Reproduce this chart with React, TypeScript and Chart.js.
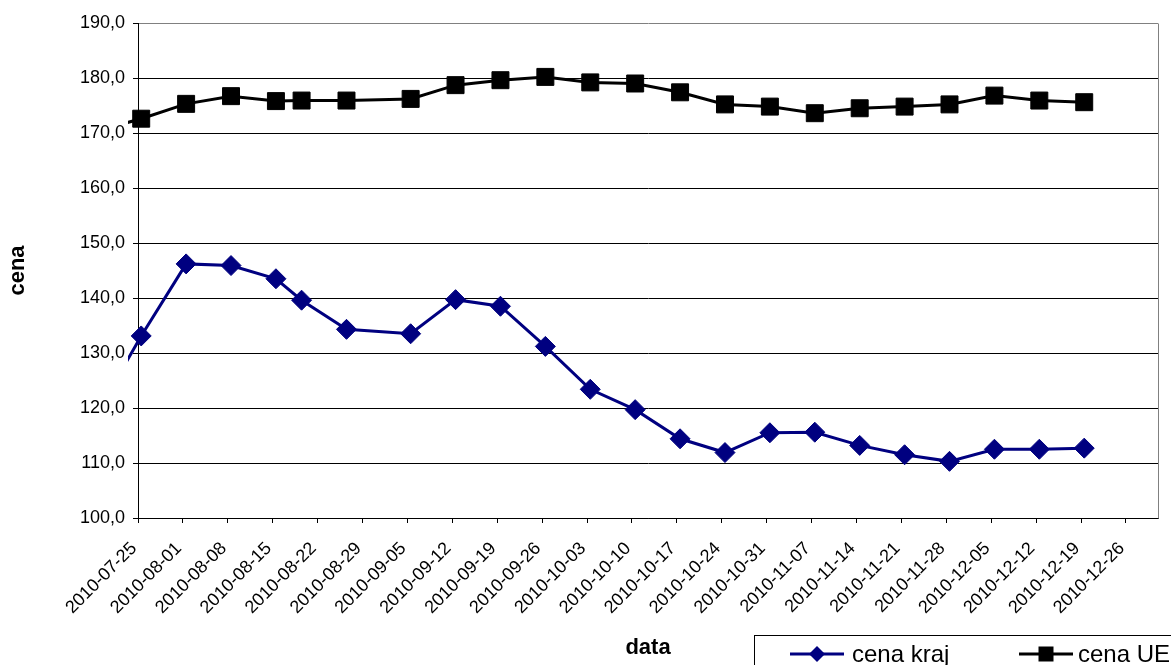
import React, { useEffect, useRef } from 'react';
import { Chart, registerables } from 'chart.js';

Chart.register(...registerables);

// ---- data ----
const axisStart = '2010-07-25';
const axisEnd = '2010-12-31';
const tickDates = [
  '2010-07-25', '2010-08-01', '2010-08-08', '2010-08-15', '2010-08-22', '2010-08-29',
  '2010-09-05', '2010-09-12', '2010-09-19', '2010-09-26', '2010-10-03', '2010-10-10',
  '2010-10-17', '2010-10-24', '2010-10-31', '2010-11-07', '2010-11-14', '2010-11-21',
  '2010-11-28', '2010-12-05', '2010-12-12', '2010-12-19', '2010-12-26',
];
const dates = [
  '2010-07-18', '2010-07-25', '2010-08-01', '2010-08-08', '2010-08-15', '2010-08-19',
  '2010-08-26', '2010-09-05', '2010-09-12', '2010-09-19', '2010-09-26', '2010-10-03',
  '2010-10-10', '2010-10-17', '2010-10-24', '2010-10-31', '2010-11-07', '2010-11-14',
  '2010-11-21', '2010-11-28', '2010-12-05', '2010-12-12', '2010-12-19',
];
const cenaKraj = [
  118.9, 133.1, 146.2, 145.9, 143.5, 139.6, 134.3, 133.5, 139.7, 138.5, 131.2, 123.4,
  119.7, 114.4, 111.9, 115.5, 115.6, 113.2, 111.5, 110.3, 112.5, 112.5, 112.7,
];
const cenaUE = [
  170.3, 172.6, 175.3, 176.7, 175.8, 175.9, 175.9, 176.2, 178.7, 179.6, 180.2, 179.2,
  179.0, 177.4, 175.2, 174.8, 173.6, 174.5, 174.8, 175.2, 176.8, 175.9, 175.6,
];
const seriesLabels = ['cena kraj', 'cena UE'];
const yMin = 100;
const yMax = 190;
const yStep = 10;

const DAY = 86400000;
const parseUTC = (s: string) => {
  const [y, m, d] = s.split('-').map(Number);
  return Date.UTC(y, m - 1, d);
};
const dayOf = (s: string) => (parseUTC(s) - parseUTC(axisStart)) / DAY;
const fmtDay = (n: number) => {
  const d = new Date(parseUTC(axisStart) + n * DAY);
  const p = (v: number) => String(v).padStart(2, '0');
  return `${d.getUTCFullYear()}-${p(d.getUTCMonth() + 1)}-${p(d.getUTCDate())}`;
};

const NAVY = '#000080';
const FONT = "'Liberation Sans', Arial, sans-serif";

const frameAndLegend = {
  id: 'frameAndLegend',
  beforeDatasetsDraw(chart: any) {
    const { ctx, chartArea } = chart;
    ctx.save();
    ctx.strokeStyle = '#808080';
    ctx.lineWidth = 1;
    const x = Math.round(chartArea.right) + 0.5;
    ctx.beginPath();
    ctx.moveTo(x, Math.round(chartArea.top) + 0.5);
    ctx.lineTo(x, Math.round(chartArea.bottom) + 0.5);
    ctx.stroke();
    ctx.restore();
  },
  afterDraw(chart: any) {
    const { ctx } = chart;
    ctx.save();
    ctx.fillStyle = '#ffffff';
    ctx.fillRect(754.5, 635.5, 600, 100);
    ctx.strokeStyle = '#000000';
    ctx.lineWidth = 1;
    ctx.strokeRect(754.5, 635.5, 600, 100);
    const items = [
      { x0: 790, x1: 844, tx: 852 },
      { x0: 1019, x1: 1073, tx: 1078 },
    ];
    const ly = 654;
    chart.data.datasets.forEach((ds: any, i: number) => {
      const it = items[i];
      ctx.strokeStyle = ds.borderColor;
      ctx.lineWidth = 3;
      ctx.beginPath();
      ctx.moveTo(it.x0, ly);
      ctx.lineTo(it.x1, ly);
      ctx.stroke();
      const cx = (it.x0 + it.x1) / 2;
      ctx.fillStyle = ds.pointBackgroundColor;
      ctx.beginPath();
      if (ds.pointStyle === 'rectRot') {
        const r = 8;
        ctx.moveTo(cx - r, ly);
        ctx.lineTo(cx, ly - r);
        ctx.lineTo(cx + r, ly);
        ctx.lineTo(cx, ly + r);
        ctx.closePath();
      } else {
        ctx.rect(cx - 7.5, ly - 7.5, 15, 15);
      }
      ctx.fill();
      ctx.fillStyle = '#000000';
      ctx.font = `24px ${FONT}`;
      ctx.textAlign = 'left';
      ctx.textBaseline = 'alphabetic';
      ctx.fillText(ds.label, it.tx, 662);
    });
    ctx.restore();
  },
};

export default function App() {
  const ref = useRef<HTMLCanvasElement | null>(null);

  useEffect(() => {
    document.body.style.margin = '0';
    const canvas = ref.current;
    if (!canvas) return;
    const kraj = dates.map((d, i) => ({ x: dayOf(d) + 0.5, y: cenaKraj[i] }));
    const ue = dates.map((d, i) => ({ x: dayOf(d) + 0.5, y: cenaUE[i] }));
    const chart = new Chart(canvas, {
      type: 'line',
      data: {
        datasets: [
          {
            label: seriesLabels[0],
            data: kraj,
            borderColor: NAVY,
            backgroundColor: NAVY,
            pointBackgroundColor: NAVY,
            pointBorderColor: NAVY,
            pointStyle: 'rectRot',
            pointRadius: 10,
            pointBorderWidth: 1,
            borderWidth: 3,
            tension: 0,
            clip: { left: 10, top: 12, right: 12, bottom: 12 },
          } as any,
          {
            label: seriesLabels[1],
            data: ue,
            borderColor: '#000000',
            backgroundColor: '#000000',
            pointBackgroundColor: '#000000',
            pointBorderColor: '#000000',
            pointStyle: 'rect',
            pointRadius: 12,
            pointBorderWidth: 1,
            borderWidth: 3,
            tension: 0,
            clip: { left: 10, top: 12, right: 12, bottom: 12 },
          } as any,
        ],
      },
      options: {
        responsive: false,
        animation: false,
        devicePixelRatio: 1,
        layout: { padding: { top: 23, right: 9, left: 0, bottom: 0 } },
        plugins: {
          legend: { display: false },
          tooltip: { enabled: false },
        },
        scales: {
          x: {
            type: 'linear',
            min: dayOf(axisStart),
            max: dayOf(axisEnd),
            afterBuildTicks: (scale: any) => {
              scale.ticks = tickDates.map((d) => ({ value: dayOf(d) }));
            },
            afterFit: (scale: any) => {
              scale.height = 147;
            },
            ticks: {
              autoSkip: false,
              minRotation: 45,
              maxRotation: 45,
              color: '#000000',
              padding: 15,
              labelOffset: -4,
              font: { family: FONT, size: 18 },
              callback: (v: any) => fmtDay(Number(v)),
            },
            grid: {
              drawOnChartArea: false,
              drawTicks: true,
              tickLength: 5,
              color: '#000000',
              tickColor: '#000000',
            },
            border: { display: true, color: '#000000', width: 1 },
            title: {
              display: true,
              text: 'data',
              color: '#000000',
              font: { family: FONT, size: 22, weight: 'bold' },
              padding: { top: 0, bottom: 4 },
            },
          },
          y: {
            type: 'linear',
            min: yMin,
            max: yMax,
            afterFit: (scale: any) => {
              scale.width = 138;
            },
            ticks: {
              stepSize: yStep,
              color: '#000000',
              padding: 8,
              font: { family: FONT, size: 18 },
              callback: (v: any) => Number(v).toFixed(1).replace('.', ','),
            },
            grid: {
              drawTicks: true,
              tickLength: 5,
              color: (c: any) => (c.tick && c.tick.value === yMax ? '#808080' : '#000000'),
              tickColor: '#000000',
              lineWidth: 1,
            },
            border: { display: true, color: '#000000', width: 1 },
            title: {
              display: true,
              text: 'cena',
              color: '#000000',
              font: { family: FONT, size: 22, weight: 'bold' },
              padding: { top: 5, bottom: 0 },
            },
          },
        },
      },
      plugins: [frameAndLegend],
    });
    return () => chart.destroy();
  }, []);

  return (
    <div style={{ position: 'fixed', left: 0, top: 0, width: 1171, height: 665, background: '#ffffff' }}>
      <canvas ref={ref} width={1171} height={665} style={{ width: 1171, height: 665, display: 'block' }} />
    </div>
  );
}
